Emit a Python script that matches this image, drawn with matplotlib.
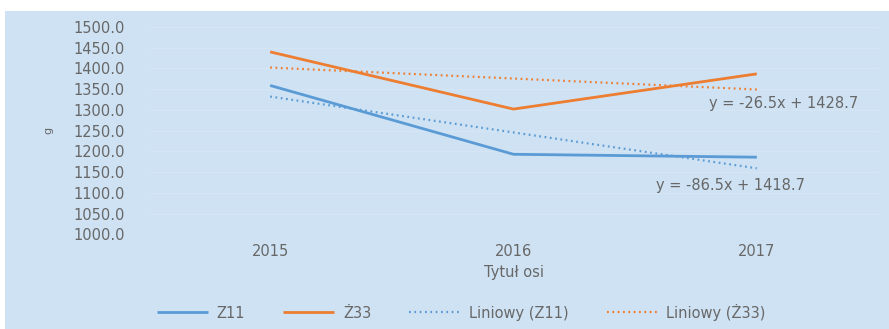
import numpy as np
import matplotlib.pyplot as plt

# yearly means (g)
years = ["2015", "2016", "2017"]
z11 = [1359, 1193, 1186]
z33 = [1440, 1302, 1387]

# linear trend coefficients shown on the chart (slope, intercept)
trend_z11 = (-86.5, 1418.7)
trend_z33 = (-26.5, 1428.7)

yticks = np.arange(1000, 1501, 50)

bg = "#cfe2f3"
txt = "#676767"
blue = "#5b9bd5"
orange = "#ed7d31"

plt.rcParams["font.family"] = ["DejaVu Sans"]

fig = plt.figure(figsize=(8.89, 3.29), dpi=100)
# chart area background (leaves a thin white border top/left)
fig.patches.append(plt.Rectangle((5 / 889, 0), 1, 1 - 11 / 329, transform=fig.transFigure,
                                 facecolor=bg, edgecolor="none", zorder=-1))

ax = fig.add_axes([148.5 / 889, 1 - 234.3 / 329, 730 / 889, 207.3 / 329])
ax.set_facecolor(bg)

x = np.arange(1, len(years) + 1)
ax.plot(x, z11, color=blue, lw=2.0, label="Z11", solid_capstyle="butt")
ax.plot(x, z33, color=orange, lw=2.0, label="Ż33", solid_capstyle="butt")

ax.plot(x, trend_z11[0] * x + trend_z11[1], color=blue, lw=1.6,
        linestyle=(0, (0.8, 1.6)), label="Liniowy (Z11)")
ax.plot(x, trend_z33[0] * x + trend_z33[1], color=orange, lw=1.6,
        linestyle=(0, (0.8, 1.6)), label="Liniowy (Ż33)")

ax.text(3.11, 1314.7, "y = %.1fx + %.1f" % trend_z33, color=txt, fontsize=10.5,
        ha="center", va="center")
ax.text(2.89, 1116.7, "y = %.1fx + %.1f" % trend_z11, color=txt, fontsize=10.5,
        ha="center", va="center")

ax.set_xlim(0.5, 3.5)
ax.set_ylim(1000, 1500)
ax.set_xticks(x)
ax.set_xticklabels(years)
ax.set_yticks(yticks)
ax.set_yticklabels(["%.1f" % v for v in yticks])
ax.tick_params(length=0, colors=txt, labelsize=10.5)
ax.tick_params(axis="y", pad=17)
ax.tick_params(axis="x", pad=7)
ax.grid(axis="y", color="#d6e6f5", lw=0.7)
ax.set_axisbelow(True)
for s in ax.spines.values():
    s.set_visible(False)

ax.set_xlabel("Tytuł osi", color=txt, fontsize=10.5, labelpad=4)
ax.set_ylabel("g", color=txt, fontsize=8)
ax.yaxis.set_label_coords(-0.13, 0.5)

fig.legend(loc="center", bbox_to_anchor=(0.519, 1 - 312 / 329), ncol=4, frameon=False,
           fontsize=10.5, labelcolor=txt, handlelength=3.5, columnspacing=2.6,
           handletextpad=0.6)

fig.savefig("out.png", dpi=100)
